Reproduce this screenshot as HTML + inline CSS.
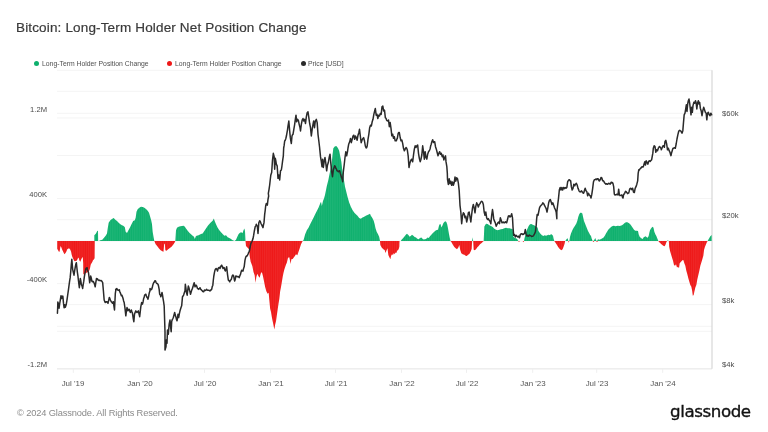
<!DOCTYPE html>
<html><head><meta charset="utf-8"><title>Bitcoin: Long-Term Holder Net Position Change</title>
<style>
html,body{margin:0;padding:0;background:#fff;}
body{width:768px;height:432px;position:relative;overflow:hidden;font-family:"Liberation Sans",sans-serif;}
.t{position:absolute;white-space:nowrap;line-height:1;will-change:transform;}
.title{left:16.3px;top:20.8px;font-size:13.5px;color:#3a3a3a;letter-spacing:0.155px;-webkit-text-stroke:0.2px #3a3a3a;}
.lg{font-size:6.83px;color:#505050;top:61.2px;}
.dot{position:absolute;width:5px;height:5px;border-radius:50%;top:61.4px;}
.yl{font-size:7.6px;color:#4a4a4a;text-align:right;width:40px;left:7.3px;}
.yr{font-size:7.7px;color:#4a4a4a;left:721.6px;}
.xl{font-size:7.95px;color:#555;top:379.8px;width:40px;text-align:center;margin-left:-20px;}
.copy{left:16.6px;top:408.7px;font-size:9.3px;color:#8a8a8a;letter-spacing:-0.14px;}
.logo{left:669.6px;top:403.4px;font-size:16.7px;color:#111;font-family:'DejaVu Sans',sans-serif;-webkit-text-stroke:0.35px #111;letter-spacing:-0.42px;}
</style></head><body>
<svg width="768" height="432" viewBox="0 0 768 432" style="position:absolute;left:0;top:0"><line x1="57.0" x2="712.0" y1="70.30" y2="70.30" stroke="#f4f4f4" stroke-width="1"/><line x1="57.0" x2="712.0" y1="91.32" y2="91.32" stroke="#f4f4f4" stroke-width="1"/><line x1="57.0" x2="712.0" y1="113.25" y2="113.25" stroke="#f4f4f4" stroke-width="1"/><line x1="57.0" x2="712.0" y1="117.97" y2="117.97" stroke="#f4f4f4" stroke-width="1"/><line x1="57.0" x2="712.0" y1="155.53" y2="155.53" stroke="#f4f4f4" stroke-width="1"/><line x1="57.0" x2="712.0" y1="198.45" y2="198.45" stroke="#f4f4f4" stroke-width="1"/><line x1="57.0" x2="712.0" y1="219.74" y2="219.74" stroke="#f4f4f4" stroke-width="1"/><line x1="57.0" x2="712.0" y1="241.05" y2="241.05" stroke="#f4f4f4" stroke-width="1"/><line x1="57.0" x2="712.0" y1="283.65" y2="283.65" stroke="#f4f4f4" stroke-width="1"/><line x1="57.0" x2="712.0" y1="304.62" y2="304.62" stroke="#f4f4f4" stroke-width="1"/><line x1="57.0" x2="712.0" y1="326.25" y2="326.25" stroke="#f4f4f4" stroke-width="1"/><line x1="57.0" x2="712.0" y1="331.27" y2="331.27" stroke="#f4f4f4" stroke-width="1"/><line x1="57.0" x2="712.0" y1="368.85" y2="368.85" stroke="#f4f4f4" stroke-width="1"/><line x1="57.0" x2="712.0" y1="368.85" y2="368.85" stroke="#e9e9e9" stroke-width="1"/><line x1="712.0" x2="712.0" y1="70.3" y2="368.85" stroke="#d4d4d4" stroke-width="1.1"/><line x1="73.3" x2="73.3" y1="368.85" y2="372.85" stroke="#efefef" stroke-width="1"/><line x1="139.5" x2="139.5" y1="368.85" y2="372.85" stroke="#efefef" stroke-width="1"/><line x1="204.5" x2="204.5" y1="368.85" y2="372.85" stroke="#efefef" stroke-width="1"/><line x1="270.5" x2="270.5" y1="368.85" y2="372.85" stroke="#efefef" stroke-width="1"/><line x1="335.5" x2="335.5" y1="368.85" y2="372.85" stroke="#efefef" stroke-width="1"/><line x1="401.5" x2="401.5" y1="368.85" y2="372.85" stroke="#efefef" stroke-width="1"/><line x1="466.5" x2="466.5" y1="368.85" y2="372.85" stroke="#efefef" stroke-width="1"/><line x1="532.7" x2="532.7" y1="368.85" y2="372.85" stroke="#efefef" stroke-width="1"/><line x1="596.7" x2="596.7" y1="368.85" y2="372.85" stroke="#efefef" stroke-width="1"/><line x1="662.7" x2="662.7" y1="368.85" y2="372.85" stroke="#efefef" stroke-width="1"/><defs><pattern id="st" width="2.2" height="8" patternUnits="userSpaceOnUse"><rect x="0.3" y="0" width="0.7" height="8" fill="#ffffff" fill-opacity="0.10"/></pattern></defs><path d="M57.20,241.1L57.20,241.10L57.20,241.10L58.20,241.10L59.20,241.10L59.80,241.10L60.50,241.10L61.30,241.10L62.20,241.10L63.20,241.10L64.40,241.10L65.50,241.10L66.50,241.10L67.30,241.10L68.30,241.10L69.40,241.10L70.30,241.10L71.10,241.10L71.70,241.10L72.30,241.10L73.20,241.10L74.00,241.10L74.80,241.10L75.80,241.10L76.90,241.10L77.80,241.10L78.60,241.10L79.40,241.10L80.30,241.10L81.10,241.10L81.90,241.10L82.75,241.10L83.20,241.10L83.30,241.10L83.70,241.10L85.00,241.10L87.00,241.10L88.60,241.10L89.40,241.10L90.00,241.10L90.70,241.10L91.50,241.10L92.30,241.10L93.00,241.10L93.80,241.10L94.60,241.10L94.75,241.10L94.33,241.10L94.33,235.17L96.00,233.50L97.33,230.67L98.00,231.00L98.17,241.10L99.00,241.10L100.33,240.33L102.33,239.67L104.00,237.67L105.67,235.67L107.00,233.50L107.83,227.67L108.67,222.67L110.33,220.17L112.00,219.00L113.67,218.00L115.33,219.67L117.00,221.00L118.67,222.67L120.33,224.33L122.00,225.17L123.67,226.00L124.83,227.33L125.67,231.83L127.00,233.00L128.17,230.67L129.83,227.67L131.50,224.33L133.17,221.00L134.83,220.17L135.67,217.67L136.50,211.83L137.67,209.33L139.33,207.67L141.00,206.83L142.67,207.00L144.33,207.67L146.00,209.00L147.67,210.67L149.00,212.67L150.17,216.83L151.17,220.17L152.00,224.33L152.67,231.83L153.67,237.67L154.33,241.10L155.67,241.10L157.33,241.10L159.00,241.10L160.67,241.10L162.33,241.10L163.50,241.10L164.17,241.10L164.83,241.10L165.33,241.10L166.50,241.10L168.17,241.10L169.83,241.10L171.50,241.10L173.17,241.10L174.83,241.10L175.33,241.10L176.00,230.17L177.00,227.67L178.67,226.83L180.33,226.33L182.00,226.00L183.67,225.67L184.83,226.83L186.00,228.50L187.67,230.67L189.33,232.67L191.00,234.33L192.67,235.67L194.00,236.83L194.83,239.00L195.67,236.83L196.00,236.00L198.50,235.17L201.00,234.00L202.67,233.50L204.33,231.00L206.00,228.50L207.67,226.00L209.33,224.00L211.00,222.33L212.67,220.67L213.83,218.50L214.67,221.00L216.00,224.33L217.67,227.67L219.33,230.17L221.00,232.33L222.67,234.00L224.33,235.67L226.00,235.17L227.67,237.33L229.33,238.00L231.00,239.00L232.67,240.17L234.67,241.10L236.00,239.67L237.33,236.83L238.50,234.33L239.67,233.00L241.00,232.33L242.67,233.00L243.50,230.17L244.33,228.50L245.00,231.00L245.50,241.10L246.00,241.10L247.67,241.10L249.00,241.10L249.67,241.10L250.67,241.10L252.33,241.10L253.50,241.10L254.67,241.10L255.50,241.10L256.33,241.10L257.33,241.10L258.50,241.10L259.67,241.10L260.67,241.10L261.83,241.10L263.00,241.10L264.00,241.10L265.17,241.10L266.33,241.10L267.67,241.10L268.67,241.10L269.33,241.10L270.17,241.10L271.00,241.10L271.83,241.10L272.67,241.10L273.50,241.10L274.33,241.10L275.17,241.10L276.00,241.10L276.83,241.10L277.67,241.10L278.50,241.10L279.33,241.10L280.17,241.10L281.00,241.10L281.83,241.10L282.67,241.10L283.50,241.10L284.33,241.10L285.17,241.10L286.00,241.10L286.83,241.10L288.00,241.10L289.33,241.10L290.67,241.10L291.33,241.10L292.67,241.10L294.33,241.10L296.00,241.10L297.33,241.10L298.50,241.10L299.67,241.10L301.00,241.10L302.67,241.10L303.50,240.17L305.17,234.33L306.83,230.17L308.50,227.67L310.17,224.33L311.83,221.00L313.50,217.67L315.17,214.33L316.83,211.00L318.50,207.67L320.17,203.50L321.00,201.83L321.83,206.00L323.00,201.00L324.00,198.50L325.00,195.00L326.67,186.67L328.33,180.00L330.00,171.67L331.67,163.33L332.50,155.00L333.33,148.33L335.00,146.33L336.67,146.33L338.00,148.33L339.17,150.83L340.33,156.67L341.33,161.67L342.50,171.67L343.67,178.33L345.00,186.67L345.83,190.00L347.50,196.67L349.17,202.50L350.83,206.67L352.50,210.00L354.17,212.50L355.83,214.17L357.50,215.83L359.17,218.00L360.83,218.67L362.50,217.50L364.17,216.67L365.83,215.83L367.50,215.00L369.17,214.17L370.00,213.83L370.83,215.83L372.50,218.33L373.67,220.83L374.67,224.17L375.50,228.33L376.67,231.67L378.00,234.17L379.17,236.67L380.00,241.10L380.33,241.10L381.67,241.10L383.33,241.10L384.67,241.10L385.50,241.10L386.67,241.10L387.50,241.10L388.33,241.10L389.50,241.10L390.33,241.10L391.17,241.10L392.00,241.10L393.00,241.10L393.83,241.10L394.67,241.10L395.50,241.10L396.33,241.10L397.17,241.10L398.00,241.10L398.67,241.10L399.33,241.10L399.50,241.10L400.83,241.10L401.33,240.00L403.00,238.33L404.67,236.33L405.83,234.67L407.00,233.83L408.33,235.00L409.67,236.67L411.00,235.83L412.00,234.67L413.33,235.83L414.67,237.00L416.00,237.50L417.33,238.67L418.67,239.17L420.00,238.00L421.33,237.50L422.50,238.67L423.67,239.50L425.00,239.17L426.33,238.67L427.50,237.50L428.67,238.00L430.00,236.33L431.33,234.67L432.67,233.33L434.00,232.00L435.33,230.83L436.67,230.00L438.00,229.67L439.00,225.83L439.67,224.17L440.67,224.17L441.33,227.50L442.33,225.83L443.33,223.33L444.33,222.00L445.33,221.33L446.33,222.00L447.17,224.17L448.00,228.33L448.83,233.33L449.67,237.50L450.50,241.10L451.67,241.10L453.00,241.10L454.33,241.10L455.67,241.10L457.00,241.10L458.33,241.10L459.33,241.10L460.17,241.10L461.33,241.10L462.67,241.10L464.33,241.10L465.67,241.10L466.83,241.10L468.00,241.10L469.33,241.10L470.67,241.10L471.67,241.10L472.17,241.10L472.50,237.33L473.17,241.10L473.67,241.10L474.67,241.10L476.00,241.10L477.33,241.10L478.67,241.10L480.00,241.10L481.33,241.10L482.67,241.10L483.67,241.10L484.00,234.00L484.33,226.50L486.00,223.67L487.67,224.00L489.33,225.33L491.00,226.00L492.67,227.00L494.33,228.67L496.00,229.83L497.67,230.33L499.33,229.83L501.00,229.33L502.67,229.00L504.33,228.17L506.00,227.83L507.67,228.17L509.33,228.17L511.00,228.67L512.67,229.00L513.33,236.50L514.33,237.67L516.00,238.33L517.33,239.33L518.33,241.10L519.00,241.10L519.67,241.10L522.67,241.10L523.33,241.10L524.00,241.10L524.33,239.00L525.17,235.67L526.00,232.33L527.33,229.00L528.67,226.00L530.00,224.33L531.33,224.00L532.67,224.83L534.00,225.33L535.33,226.00L536.67,227.00L537.67,227.67L538.33,230.67L539.33,232.33L540.67,234.00L542.00,235.33L543.33,236.00L544.67,235.33L546.00,235.67L547.33,235.33L548.67,234.83L550.00,235.33L551.00,234.00L552.00,234.83L553.00,235.67L553.67,239.00L554.33,241.10L555.50,241.10L556.83,241.10L558.17,241.10L559.50,241.10L560.67,241.10L561.67,241.10L562.67,241.10L563.67,241.10L564.50,241.10L565.17,241.10L565.33,241.10L566.67,239.00L567.67,238.17L568.33,241.10L568.67,241.10L569.33,241.10L570.00,236.83L571.00,233.50L572.33,230.17L573.67,227.67L575.00,225.67L576.33,223.50L577.33,220.67L578.33,216.83L579.33,214.00L580.33,212.67L581.33,212.67L582.33,213.50L583.00,216.83L584.00,221.00L585.00,223.50L586.00,226.00L587.00,228.50L588.00,231.00L589.00,232.67L590.00,234.67L591.00,236.00L591.67,238.50L592.67,241.10L593.33,241.10L594.33,239.67L595.33,238.00L596.00,240.17L597.00,241.10L598.00,239.33L599.33,239.67L600.67,239.33L602.00,238.50L603.33,237.67L604.67,236.00L606.00,233.50L607.33,231.33L608.67,229.33L610.00,228.00L611.33,226.83L612.67,226.00L614.00,225.67L615.33,226.33L616.67,226.00L618.00,225.67L619.33,226.00L620.67,225.67L622.00,225.17L623.33,224.33L624.67,223.00L626.00,222.33L627.33,222.33L628.67,223.00L630.00,224.00L631.33,225.67L632.67,227.67L634.00,229.67L635.33,230.67L636.67,230.67L638.00,231.00L638.67,234.33L639.67,236.83L640.67,237.67L641.67,238.50L642.67,239.00L643.67,237.33L644.67,236.83L645.67,236.33L646.67,237.33L647.67,237.67L648.67,236.00L649.33,232.67L650.00,230.17L651.00,228.50L652.00,227.33L653.00,226.83L653.67,228.50L654.33,231.83L655.33,234.33L656.33,236.00L657.33,238.50L658.33,241.10L659.33,241.10L660.67,241.10L662.00,241.10L663.33,241.10L664.67,241.10L665.67,241.10L666.33,241.10L667.00,241.10L668.00,240.17L668.50,241.10L668.83,241.10L669.17,241.10L670.00,241.10L671.00,241.10L672.00,241.10L673.00,241.10L674.00,241.10L675.00,241.10L676.00,241.10L677.00,241.10L678.00,241.10L679.00,241.10L679.67,241.10L681.00,241.10L682.33,241.10L683.33,241.10L684.33,241.10L685.33,241.10L686.33,241.10L687.33,241.10L688.33,241.10L689.33,241.10L690.33,241.10L691.33,241.10L692.17,241.10L692.83,241.10L693.67,241.10L694.33,241.10L695.33,241.10L696.33,241.10L697.33,241.10L698.33,241.10L699.33,241.10L700.33,241.10L701.33,241.10L702.33,241.10L703.33,241.10L704.00,241.10L705.00,241.10L706.00,241.10L707.00,241.10L707.67,241.10L708.00,240.33L709.17,238.33L710.33,236.33L711.67,235.00L711.67,241.10L711.67,241.1Z" fill="#0eb06d" stroke="none"/><path d="M57.20,241.1L57.20,241.10L57.20,248.80L58.20,250.50L59.20,252.30L59.80,250.50L60.50,245.90L61.30,247.20L62.20,249.70L63.20,251.80L64.40,254.30L65.50,253.00L66.50,251.30L67.30,249.30L68.30,248.40L69.40,248.40L70.30,249.70L71.10,251.80L71.70,254.70L72.30,256.80L73.20,258.80L74.00,260.50L74.80,261.30L75.80,260.90L76.90,260.50L77.80,258.40L78.60,257.60L79.40,260.50L80.30,261.80L81.10,259.70L81.90,258.00L82.75,257.00L83.20,263.00L83.30,274.00L83.70,274.50L85.00,273.60L87.00,272.50L88.60,271.50L89.40,270.25L90.00,268.20L90.70,264.80L91.50,263.20L92.30,261.90L93.00,260.25L93.80,259.40L94.60,258.20L94.75,241.10L94.33,241.10L94.33,241.10L96.00,241.10L97.33,241.10L98.00,241.10L98.17,241.10L99.00,241.10L100.33,241.10L102.33,241.10L104.00,241.10L105.67,241.10L107.00,241.10L107.83,241.10L108.67,241.10L110.33,241.10L112.00,241.10L113.67,241.10L115.33,241.10L117.00,241.10L118.67,241.10L120.33,241.10L122.00,241.10L123.67,241.10L124.83,241.10L125.67,241.10L127.00,241.10L128.17,241.10L129.83,241.10L131.50,241.10L133.17,241.10L134.83,241.10L135.67,241.10L136.50,241.10L137.67,241.10L139.33,241.10L141.00,241.10L142.67,241.10L144.33,241.10L146.00,241.10L147.67,241.10L149.00,241.10L150.17,241.10L151.17,241.10L152.00,241.10L152.67,241.10L153.67,241.10L154.33,241.10L155.67,244.33L157.33,246.33L159.00,248.50L160.67,250.17L162.33,251.33L163.50,251.83L164.17,244.33L164.83,243.50L165.33,250.17L166.50,250.67L168.17,249.33L169.83,248.00L171.50,246.83L173.17,244.67L174.83,242.33L175.33,241.10L176.00,241.10L177.00,241.10L178.67,241.10L180.33,241.10L182.00,241.10L183.67,241.10L184.83,241.10L186.00,241.10L187.67,241.10L189.33,241.10L191.00,241.10L192.67,241.10L194.00,241.10L194.83,241.10L195.67,241.10L196.00,241.10L198.50,241.10L201.00,241.10L202.67,241.10L204.33,241.10L206.00,241.10L207.67,241.10L209.33,241.10L211.00,241.10L212.67,241.10L213.83,241.10L214.67,241.10L216.00,241.10L217.67,241.10L219.33,241.10L221.00,241.10L222.67,241.10L224.33,241.10L226.00,241.10L227.67,241.10L229.33,241.10L231.00,241.10L232.67,241.10L234.67,241.10L236.00,241.10L237.33,241.10L238.50,241.10L239.67,241.10L241.00,241.10L242.67,241.10L243.50,241.10L244.33,241.10L245.00,241.10L245.50,241.10L246.00,246.00L247.67,247.67L249.00,249.33L249.67,256.00L250.67,261.83L252.33,266.00L253.50,272.00L254.67,275.33L255.50,282.83L256.33,277.00L257.33,273.67L258.50,276.17L259.67,277.83L260.67,273.67L261.83,272.00L263.00,276.17L264.00,281.17L265.17,287.00L266.33,291.17L267.67,293.67L268.67,292.83L269.33,300.33L270.17,308.67L271.00,312.00L271.83,317.00L272.67,321.17L273.50,325.33L274.33,329.50L275.17,324.50L276.00,321.17L276.83,315.33L277.67,309.50L278.50,303.67L279.33,298.67L280.17,291.17L281.00,287.00L281.83,282.00L282.67,277.00L283.50,272.83L284.33,269.50L285.17,267.00L286.00,264.50L286.83,262.67L288.00,257.67L289.33,257.33L290.67,264.00L291.33,259.33L292.67,259.00L294.33,256.83L296.00,254.33L297.33,255.17L298.50,251.83L299.67,248.50L301.00,244.33L302.67,241.10L303.50,241.10L305.17,241.10L306.83,241.10L308.50,241.10L310.17,241.10L311.83,241.10L313.50,241.10L315.17,241.10L316.83,241.10L318.50,241.10L320.17,241.10L321.00,241.10L321.83,241.10L323.00,241.10L324.00,241.10L325.00,241.10L326.67,241.10L328.33,241.10L330.00,241.10L331.67,241.10L332.50,241.10L333.33,241.10L335.00,241.10L336.67,241.10L338.00,241.10L339.17,241.10L340.33,241.10L341.33,241.10L342.50,241.10L343.67,241.10L345.00,241.10L345.83,241.10L347.50,241.10L349.17,241.10L350.83,241.10L352.50,241.10L354.17,241.10L355.83,241.10L357.50,241.10L359.17,241.10L360.83,241.10L362.50,241.10L364.17,241.10L365.83,241.10L367.50,241.10L369.17,241.10L370.00,241.10L370.83,241.10L372.50,241.10L373.67,241.10L374.67,241.10L375.50,241.10L376.67,241.10L378.00,241.10L379.17,241.10L380.00,241.10L380.33,245.00L381.67,247.50L383.33,249.17L384.67,250.00L385.50,253.00L386.67,250.00L387.50,248.33L388.33,255.00L389.50,257.50L390.33,259.17L391.17,255.83L392.00,254.17L393.00,255.00L393.83,253.00L394.67,254.17L395.50,252.50L396.33,253.00L397.17,250.83L398.00,250.00L398.67,249.17L399.33,246.67L399.50,241.10L400.83,241.10L401.33,241.10L403.00,241.10L404.67,241.10L405.83,241.10L407.00,241.10L408.33,241.10L409.67,241.10L411.00,241.10L412.00,241.10L413.33,241.10L414.67,241.10L416.00,241.10L417.33,241.10L418.67,241.10L420.00,241.10L421.33,241.10L422.50,241.10L423.67,241.10L425.00,241.10L426.33,241.10L427.50,241.10L428.67,241.10L430.00,241.10L431.33,241.10L432.67,241.10L434.00,241.10L435.33,241.10L436.67,241.10L438.00,241.10L439.00,241.10L439.67,241.10L440.67,241.10L441.33,241.10L442.33,241.10L443.33,241.10L444.33,241.10L445.33,241.10L446.33,241.10L447.17,241.10L448.00,241.10L448.83,241.10L449.67,241.10L450.50,241.10L451.67,242.50L453.00,245.00L454.33,247.00L455.67,248.33L457.00,249.17L458.33,247.50L459.33,245.00L460.17,249.83L461.33,253.17L462.67,254.33L464.33,254.83L465.67,255.67L466.83,256.00L468.00,254.83L469.33,254.00L470.67,251.50L471.67,249.00L472.17,241.10L472.50,241.10L473.17,241.10L473.67,249.83L474.67,250.33L476.00,249.33L477.33,247.33L478.67,246.00L480.00,244.33L481.33,243.17L482.67,242.00L483.67,241.10L484.00,241.10L484.33,241.10L486.00,241.10L487.67,241.10L489.33,241.10L491.00,241.10L492.67,241.10L494.33,241.10L496.00,241.10L497.67,241.10L499.33,241.10L501.00,241.10L502.67,241.10L504.33,241.10L506.00,241.10L507.67,241.10L509.33,241.10L511.00,241.10L512.67,241.10L513.33,241.10L514.33,241.10L516.00,241.10L517.33,241.10L518.33,241.10L519.00,242.33L519.67,241.10L522.67,241.10L523.33,242.33L524.00,241.10L524.33,241.10L525.17,241.10L526.00,241.10L527.33,241.10L528.67,241.10L530.00,241.10L531.33,241.10L532.67,241.10L534.00,241.10L535.33,241.10L536.67,241.10L537.67,241.10L538.33,241.10L539.33,241.10L540.67,241.10L542.00,241.10L543.33,241.10L544.67,241.10L546.00,241.10L547.33,241.10L548.67,241.10L550.00,241.10L551.00,241.10L552.00,241.10L553.00,241.10L553.67,241.10L554.33,241.10L555.50,242.67L556.83,244.83L558.17,247.00L559.50,248.67L560.67,249.83L561.67,250.33L562.67,249.00L563.67,246.50L564.50,244.00L565.17,241.10L565.33,241.10L566.67,241.10L567.67,241.10L568.33,241.10L568.67,242.67L569.33,241.10L570.00,241.10L571.00,241.10L572.33,241.10L573.67,241.10L575.00,241.10L576.33,241.10L577.33,241.10L578.33,241.10L579.33,241.10L580.33,241.10L581.33,241.10L582.33,241.10L583.00,241.10L584.00,241.10L585.00,241.10L586.00,241.10L587.00,241.10L588.00,241.10L589.00,241.10L590.00,241.10L591.00,241.10L591.67,241.10L592.67,241.10L593.33,242.00L594.33,241.10L595.33,241.10L596.00,241.10L597.00,242.00L598.00,241.10L599.33,241.10L600.67,241.10L602.00,241.10L603.33,241.10L604.67,241.10L606.00,241.10L607.33,241.10L608.67,241.10L610.00,241.10L611.33,241.10L612.67,241.10L614.00,241.10L615.33,241.10L616.67,241.10L618.00,241.10L619.33,241.10L620.67,241.10L622.00,241.10L623.33,241.10L624.67,241.10L626.00,241.10L627.33,241.10L628.67,241.10L630.00,241.10L631.33,241.10L632.67,241.10L634.00,241.10L635.33,241.10L636.67,241.10L638.00,241.10L638.67,241.10L639.67,241.10L640.67,241.10L641.67,241.10L642.67,241.10L643.67,241.10L644.67,241.10L645.67,241.10L646.67,241.10L647.67,241.10L648.67,241.10L649.33,241.10L650.00,241.10L651.00,241.10L652.00,241.10L653.00,241.10L653.67,241.10L654.33,241.10L655.33,241.10L656.33,241.10L657.33,241.10L658.33,241.10L659.33,242.17L660.67,243.50L662.00,244.67L663.33,245.67L664.67,246.33L665.67,244.33L666.33,242.17L667.00,241.10L668.00,241.10L668.50,241.10L668.83,241.10L669.17,246.67L670.00,250.83L671.00,254.17L672.00,257.50L673.00,260.83L674.00,265.00L675.00,265.83L676.00,264.17L677.00,267.50L678.00,266.67L679.00,268.33L679.67,263.33L681.00,261.67L682.33,260.33L683.33,260.00L684.33,263.33L685.33,265.83L686.33,270.83L687.33,274.17L688.33,278.33L689.33,281.67L690.33,285.00L691.33,286.67L692.17,290.83L692.83,295.83L693.67,295.00L694.33,291.67L695.33,287.50L696.33,285.00L697.33,279.17L698.33,275.00L699.33,270.83L700.33,265.83L701.33,262.50L702.33,259.17L703.33,255.83L704.00,250.00L705.00,246.67L706.00,244.17L707.00,242.00L707.67,241.10L708.00,241.10L709.17,241.10L710.33,241.10L711.67,241.10L711.67,241.10L711.67,241.1Z" fill="#ee1818" stroke="none"/><path d="M57.20,241.1L57.20,241.10L57.20,241.10L58.20,241.10L59.20,241.10L59.80,241.10L60.50,241.10L61.30,241.10L62.20,241.10L63.20,241.10L64.40,241.10L65.50,241.10L66.50,241.10L67.30,241.10L68.30,241.10L69.40,241.10L70.30,241.10L71.10,241.10L71.70,241.10L72.30,241.10L73.20,241.10L74.00,241.10L74.80,241.10L75.80,241.10L76.90,241.10L77.80,241.10L78.60,241.10L79.40,241.10L80.30,241.10L81.10,241.10L81.90,241.10L82.75,241.10L83.20,241.10L83.30,241.10L83.70,241.10L85.00,241.10L87.00,241.10L88.60,241.10L89.40,241.10L90.00,241.10L90.70,241.10L91.50,241.10L92.30,241.10L93.00,241.10L93.80,241.10L94.60,241.10L94.75,241.10L94.33,241.10L94.33,235.17L96.00,233.50L97.33,230.67L98.00,231.00L98.17,241.10L99.00,241.10L100.33,240.33L102.33,239.67L104.00,237.67L105.67,235.67L107.00,233.50L107.83,227.67L108.67,222.67L110.33,220.17L112.00,219.00L113.67,218.00L115.33,219.67L117.00,221.00L118.67,222.67L120.33,224.33L122.00,225.17L123.67,226.00L124.83,227.33L125.67,231.83L127.00,233.00L128.17,230.67L129.83,227.67L131.50,224.33L133.17,221.00L134.83,220.17L135.67,217.67L136.50,211.83L137.67,209.33L139.33,207.67L141.00,206.83L142.67,207.00L144.33,207.67L146.00,209.00L147.67,210.67L149.00,212.67L150.17,216.83L151.17,220.17L152.00,224.33L152.67,231.83L153.67,237.67L154.33,241.10L155.67,241.10L157.33,241.10L159.00,241.10L160.67,241.10L162.33,241.10L163.50,241.10L164.17,241.10L164.83,241.10L165.33,241.10L166.50,241.10L168.17,241.10L169.83,241.10L171.50,241.10L173.17,241.10L174.83,241.10L175.33,241.10L176.00,230.17L177.00,227.67L178.67,226.83L180.33,226.33L182.00,226.00L183.67,225.67L184.83,226.83L186.00,228.50L187.67,230.67L189.33,232.67L191.00,234.33L192.67,235.67L194.00,236.83L194.83,239.00L195.67,236.83L196.00,236.00L198.50,235.17L201.00,234.00L202.67,233.50L204.33,231.00L206.00,228.50L207.67,226.00L209.33,224.00L211.00,222.33L212.67,220.67L213.83,218.50L214.67,221.00L216.00,224.33L217.67,227.67L219.33,230.17L221.00,232.33L222.67,234.00L224.33,235.67L226.00,235.17L227.67,237.33L229.33,238.00L231.00,239.00L232.67,240.17L234.67,241.10L236.00,239.67L237.33,236.83L238.50,234.33L239.67,233.00L241.00,232.33L242.67,233.00L243.50,230.17L244.33,228.50L245.00,231.00L245.50,241.10L246.00,241.10L247.67,241.10L249.00,241.10L249.67,241.10L250.67,241.10L252.33,241.10L253.50,241.10L254.67,241.10L255.50,241.10L256.33,241.10L257.33,241.10L258.50,241.10L259.67,241.10L260.67,241.10L261.83,241.10L263.00,241.10L264.00,241.10L265.17,241.10L266.33,241.10L267.67,241.10L268.67,241.10L269.33,241.10L270.17,241.10L271.00,241.10L271.83,241.10L272.67,241.10L273.50,241.10L274.33,241.10L275.17,241.10L276.00,241.10L276.83,241.10L277.67,241.10L278.50,241.10L279.33,241.10L280.17,241.10L281.00,241.10L281.83,241.10L282.67,241.10L283.50,241.10L284.33,241.10L285.17,241.10L286.00,241.10L286.83,241.10L288.00,241.10L289.33,241.10L290.67,241.10L291.33,241.10L292.67,241.10L294.33,241.10L296.00,241.10L297.33,241.10L298.50,241.10L299.67,241.10L301.00,241.10L302.67,241.10L303.50,240.17L305.17,234.33L306.83,230.17L308.50,227.67L310.17,224.33L311.83,221.00L313.50,217.67L315.17,214.33L316.83,211.00L318.50,207.67L320.17,203.50L321.00,201.83L321.83,206.00L323.00,201.00L324.00,198.50L325.00,195.00L326.67,186.67L328.33,180.00L330.00,171.67L331.67,163.33L332.50,155.00L333.33,148.33L335.00,146.33L336.67,146.33L338.00,148.33L339.17,150.83L340.33,156.67L341.33,161.67L342.50,171.67L343.67,178.33L345.00,186.67L345.83,190.00L347.50,196.67L349.17,202.50L350.83,206.67L352.50,210.00L354.17,212.50L355.83,214.17L357.50,215.83L359.17,218.00L360.83,218.67L362.50,217.50L364.17,216.67L365.83,215.83L367.50,215.00L369.17,214.17L370.00,213.83L370.83,215.83L372.50,218.33L373.67,220.83L374.67,224.17L375.50,228.33L376.67,231.67L378.00,234.17L379.17,236.67L380.00,241.10L380.33,241.10L381.67,241.10L383.33,241.10L384.67,241.10L385.50,241.10L386.67,241.10L387.50,241.10L388.33,241.10L389.50,241.10L390.33,241.10L391.17,241.10L392.00,241.10L393.00,241.10L393.83,241.10L394.67,241.10L395.50,241.10L396.33,241.10L397.17,241.10L398.00,241.10L398.67,241.10L399.33,241.10L399.50,241.10L400.83,241.10L401.33,240.00L403.00,238.33L404.67,236.33L405.83,234.67L407.00,233.83L408.33,235.00L409.67,236.67L411.00,235.83L412.00,234.67L413.33,235.83L414.67,237.00L416.00,237.50L417.33,238.67L418.67,239.17L420.00,238.00L421.33,237.50L422.50,238.67L423.67,239.50L425.00,239.17L426.33,238.67L427.50,237.50L428.67,238.00L430.00,236.33L431.33,234.67L432.67,233.33L434.00,232.00L435.33,230.83L436.67,230.00L438.00,229.67L439.00,225.83L439.67,224.17L440.67,224.17L441.33,227.50L442.33,225.83L443.33,223.33L444.33,222.00L445.33,221.33L446.33,222.00L447.17,224.17L448.00,228.33L448.83,233.33L449.67,237.50L450.50,241.10L451.67,241.10L453.00,241.10L454.33,241.10L455.67,241.10L457.00,241.10L458.33,241.10L459.33,241.10L460.17,241.10L461.33,241.10L462.67,241.10L464.33,241.10L465.67,241.10L466.83,241.10L468.00,241.10L469.33,241.10L470.67,241.10L471.67,241.10L472.17,241.10L472.50,237.33L473.17,241.10L473.67,241.10L474.67,241.10L476.00,241.10L477.33,241.10L478.67,241.10L480.00,241.10L481.33,241.10L482.67,241.10L483.67,241.10L484.00,234.00L484.33,226.50L486.00,223.67L487.67,224.00L489.33,225.33L491.00,226.00L492.67,227.00L494.33,228.67L496.00,229.83L497.67,230.33L499.33,229.83L501.00,229.33L502.67,229.00L504.33,228.17L506.00,227.83L507.67,228.17L509.33,228.17L511.00,228.67L512.67,229.00L513.33,236.50L514.33,237.67L516.00,238.33L517.33,239.33L518.33,241.10L519.00,241.10L519.67,241.10L522.67,241.10L523.33,241.10L524.00,241.10L524.33,239.00L525.17,235.67L526.00,232.33L527.33,229.00L528.67,226.00L530.00,224.33L531.33,224.00L532.67,224.83L534.00,225.33L535.33,226.00L536.67,227.00L537.67,227.67L538.33,230.67L539.33,232.33L540.67,234.00L542.00,235.33L543.33,236.00L544.67,235.33L546.00,235.67L547.33,235.33L548.67,234.83L550.00,235.33L551.00,234.00L552.00,234.83L553.00,235.67L553.67,239.00L554.33,241.10L555.50,241.10L556.83,241.10L558.17,241.10L559.50,241.10L560.67,241.10L561.67,241.10L562.67,241.10L563.67,241.10L564.50,241.10L565.17,241.10L565.33,241.10L566.67,239.00L567.67,238.17L568.33,241.10L568.67,241.10L569.33,241.10L570.00,236.83L571.00,233.50L572.33,230.17L573.67,227.67L575.00,225.67L576.33,223.50L577.33,220.67L578.33,216.83L579.33,214.00L580.33,212.67L581.33,212.67L582.33,213.50L583.00,216.83L584.00,221.00L585.00,223.50L586.00,226.00L587.00,228.50L588.00,231.00L589.00,232.67L590.00,234.67L591.00,236.00L591.67,238.50L592.67,241.10L593.33,241.10L594.33,239.67L595.33,238.00L596.00,240.17L597.00,241.10L598.00,239.33L599.33,239.67L600.67,239.33L602.00,238.50L603.33,237.67L604.67,236.00L606.00,233.50L607.33,231.33L608.67,229.33L610.00,228.00L611.33,226.83L612.67,226.00L614.00,225.67L615.33,226.33L616.67,226.00L618.00,225.67L619.33,226.00L620.67,225.67L622.00,225.17L623.33,224.33L624.67,223.00L626.00,222.33L627.33,222.33L628.67,223.00L630.00,224.00L631.33,225.67L632.67,227.67L634.00,229.67L635.33,230.67L636.67,230.67L638.00,231.00L638.67,234.33L639.67,236.83L640.67,237.67L641.67,238.50L642.67,239.00L643.67,237.33L644.67,236.83L645.67,236.33L646.67,237.33L647.67,237.67L648.67,236.00L649.33,232.67L650.00,230.17L651.00,228.50L652.00,227.33L653.00,226.83L653.67,228.50L654.33,231.83L655.33,234.33L656.33,236.00L657.33,238.50L658.33,241.10L659.33,241.10L660.67,241.10L662.00,241.10L663.33,241.10L664.67,241.10L665.67,241.10L666.33,241.10L667.00,241.10L668.00,240.17L668.50,241.10L668.83,241.10L669.17,241.10L670.00,241.10L671.00,241.10L672.00,241.10L673.00,241.10L674.00,241.10L675.00,241.10L676.00,241.10L677.00,241.10L678.00,241.10L679.00,241.10L679.67,241.10L681.00,241.10L682.33,241.10L683.33,241.10L684.33,241.10L685.33,241.10L686.33,241.10L687.33,241.10L688.33,241.10L689.33,241.10L690.33,241.10L691.33,241.10L692.17,241.10L692.83,241.10L693.67,241.10L694.33,241.10L695.33,241.10L696.33,241.10L697.33,241.10L698.33,241.10L699.33,241.10L700.33,241.10L701.33,241.10L702.33,241.10L703.33,241.10L704.00,241.10L705.00,241.10L706.00,241.10L707.00,241.10L707.67,241.10L708.00,240.33L709.17,238.33L710.33,236.33L711.67,235.00L711.67,241.10L711.67,241.1Z" fill="url(#st)" stroke="none"/><path d="M57.20,241.1L57.20,241.10L57.20,248.80L58.20,250.50L59.20,252.30L59.80,250.50L60.50,245.90L61.30,247.20L62.20,249.70L63.20,251.80L64.40,254.30L65.50,253.00L66.50,251.30L67.30,249.30L68.30,248.40L69.40,248.40L70.30,249.70L71.10,251.80L71.70,254.70L72.30,256.80L73.20,258.80L74.00,260.50L74.80,261.30L75.80,260.90L76.90,260.50L77.80,258.40L78.60,257.60L79.40,260.50L80.30,261.80L81.10,259.70L81.90,258.00L82.75,257.00L83.20,263.00L83.30,274.00L83.70,274.50L85.00,273.60L87.00,272.50L88.60,271.50L89.40,270.25L90.00,268.20L90.70,264.80L91.50,263.20L92.30,261.90L93.00,260.25L93.80,259.40L94.60,258.20L94.75,241.10L94.33,241.10L94.33,241.10L96.00,241.10L97.33,241.10L98.00,241.10L98.17,241.10L99.00,241.10L100.33,241.10L102.33,241.10L104.00,241.10L105.67,241.10L107.00,241.10L107.83,241.10L108.67,241.10L110.33,241.10L112.00,241.10L113.67,241.10L115.33,241.10L117.00,241.10L118.67,241.10L120.33,241.10L122.00,241.10L123.67,241.10L124.83,241.10L125.67,241.10L127.00,241.10L128.17,241.10L129.83,241.10L131.50,241.10L133.17,241.10L134.83,241.10L135.67,241.10L136.50,241.10L137.67,241.10L139.33,241.10L141.00,241.10L142.67,241.10L144.33,241.10L146.00,241.10L147.67,241.10L149.00,241.10L150.17,241.10L151.17,241.10L152.00,241.10L152.67,241.10L153.67,241.10L154.33,241.10L155.67,244.33L157.33,246.33L159.00,248.50L160.67,250.17L162.33,251.33L163.50,251.83L164.17,244.33L164.83,243.50L165.33,250.17L166.50,250.67L168.17,249.33L169.83,248.00L171.50,246.83L173.17,244.67L174.83,242.33L175.33,241.10L176.00,241.10L177.00,241.10L178.67,241.10L180.33,241.10L182.00,241.10L183.67,241.10L184.83,241.10L186.00,241.10L187.67,241.10L189.33,241.10L191.00,241.10L192.67,241.10L194.00,241.10L194.83,241.10L195.67,241.10L196.00,241.10L198.50,241.10L201.00,241.10L202.67,241.10L204.33,241.10L206.00,241.10L207.67,241.10L209.33,241.10L211.00,241.10L212.67,241.10L213.83,241.10L214.67,241.10L216.00,241.10L217.67,241.10L219.33,241.10L221.00,241.10L222.67,241.10L224.33,241.10L226.00,241.10L227.67,241.10L229.33,241.10L231.00,241.10L232.67,241.10L234.67,241.10L236.00,241.10L237.33,241.10L238.50,241.10L239.67,241.10L241.00,241.10L242.67,241.10L243.50,241.10L244.33,241.10L245.00,241.10L245.50,241.10L246.00,246.00L247.67,247.67L249.00,249.33L249.67,256.00L250.67,261.83L252.33,266.00L253.50,272.00L254.67,275.33L255.50,282.83L256.33,277.00L257.33,273.67L258.50,276.17L259.67,277.83L260.67,273.67L261.83,272.00L263.00,276.17L264.00,281.17L265.17,287.00L266.33,291.17L267.67,293.67L268.67,292.83L269.33,300.33L270.17,308.67L271.00,312.00L271.83,317.00L272.67,321.17L273.50,325.33L274.33,329.50L275.17,324.50L276.00,321.17L276.83,315.33L277.67,309.50L278.50,303.67L279.33,298.67L280.17,291.17L281.00,287.00L281.83,282.00L282.67,277.00L283.50,272.83L284.33,269.50L285.17,267.00L286.00,264.50L286.83,262.67L288.00,257.67L289.33,257.33L290.67,264.00L291.33,259.33L292.67,259.00L294.33,256.83L296.00,254.33L297.33,255.17L298.50,251.83L299.67,248.50L301.00,244.33L302.67,241.10L303.50,241.10L305.17,241.10L306.83,241.10L308.50,241.10L310.17,241.10L311.83,241.10L313.50,241.10L315.17,241.10L316.83,241.10L318.50,241.10L320.17,241.10L321.00,241.10L321.83,241.10L323.00,241.10L324.00,241.10L325.00,241.10L326.67,241.10L328.33,241.10L330.00,241.10L331.67,241.10L332.50,241.10L333.33,241.10L335.00,241.10L336.67,241.10L338.00,241.10L339.17,241.10L340.33,241.10L341.33,241.10L342.50,241.10L343.67,241.10L345.00,241.10L345.83,241.10L347.50,241.10L349.17,241.10L350.83,241.10L352.50,241.10L354.17,241.10L355.83,241.10L357.50,241.10L359.17,241.10L360.83,241.10L362.50,241.10L364.17,241.10L365.83,241.10L367.50,241.10L369.17,241.10L370.00,241.10L370.83,241.10L372.50,241.10L373.67,241.10L374.67,241.10L375.50,241.10L376.67,241.10L378.00,241.10L379.17,241.10L380.00,241.10L380.33,245.00L381.67,247.50L383.33,249.17L384.67,250.00L385.50,253.00L386.67,250.00L387.50,248.33L388.33,255.00L389.50,257.50L390.33,259.17L391.17,255.83L392.00,254.17L393.00,255.00L393.83,253.00L394.67,254.17L395.50,252.50L396.33,253.00L397.17,250.83L398.00,250.00L398.67,249.17L399.33,246.67L399.50,241.10L400.83,241.10L401.33,241.10L403.00,241.10L404.67,241.10L405.83,241.10L407.00,241.10L408.33,241.10L409.67,241.10L411.00,241.10L412.00,241.10L413.33,241.10L414.67,241.10L416.00,241.10L417.33,241.10L418.67,241.10L420.00,241.10L421.33,241.10L422.50,241.10L423.67,241.10L425.00,241.10L426.33,241.10L427.50,241.10L428.67,241.10L430.00,241.10L431.33,241.10L432.67,241.10L434.00,241.10L435.33,241.10L436.67,241.10L438.00,241.10L439.00,241.10L439.67,241.10L440.67,241.10L441.33,241.10L442.33,241.10L443.33,241.10L444.33,241.10L445.33,241.10L446.33,241.10L447.17,241.10L448.00,241.10L448.83,241.10L449.67,241.10L450.50,241.10L451.67,242.50L453.00,245.00L454.33,247.00L455.67,248.33L457.00,249.17L458.33,247.50L459.33,245.00L460.17,249.83L461.33,253.17L462.67,254.33L464.33,254.83L465.67,255.67L466.83,256.00L468.00,254.83L469.33,254.00L470.67,251.50L471.67,249.00L472.17,241.10L472.50,241.10L473.17,241.10L473.67,249.83L474.67,250.33L476.00,249.33L477.33,247.33L478.67,246.00L480.00,244.33L481.33,243.17L482.67,242.00L483.67,241.10L484.00,241.10L484.33,241.10L486.00,241.10L487.67,241.10L489.33,241.10L491.00,241.10L492.67,241.10L494.33,241.10L496.00,241.10L497.67,241.10L499.33,241.10L501.00,241.10L502.67,241.10L504.33,241.10L506.00,241.10L507.67,241.10L509.33,241.10L511.00,241.10L512.67,241.10L513.33,241.10L514.33,241.10L516.00,241.10L517.33,241.10L518.33,241.10L519.00,242.33L519.67,241.10L522.67,241.10L523.33,242.33L524.00,241.10L524.33,241.10L525.17,241.10L526.00,241.10L527.33,241.10L528.67,241.10L530.00,241.10L531.33,241.10L532.67,241.10L534.00,241.10L535.33,241.10L536.67,241.10L537.67,241.10L538.33,241.10L539.33,241.10L540.67,241.10L542.00,241.10L543.33,241.10L544.67,241.10L546.00,241.10L547.33,241.10L548.67,241.10L550.00,241.10L551.00,241.10L552.00,241.10L553.00,241.10L553.67,241.10L554.33,241.10L555.50,242.67L556.83,244.83L558.17,247.00L559.50,248.67L560.67,249.83L561.67,250.33L562.67,249.00L563.67,246.50L564.50,244.00L565.17,241.10L565.33,241.10L566.67,241.10L567.67,241.10L568.33,241.10L568.67,242.67L569.33,241.10L570.00,241.10L571.00,241.10L572.33,241.10L573.67,241.10L575.00,241.10L576.33,241.10L577.33,241.10L578.33,241.10L579.33,241.10L580.33,241.10L581.33,241.10L582.33,241.10L583.00,241.10L584.00,241.10L585.00,241.10L586.00,241.10L587.00,241.10L588.00,241.10L589.00,241.10L590.00,241.10L591.00,241.10L591.67,241.10L592.67,241.10L593.33,242.00L594.33,241.10L595.33,241.10L596.00,241.10L597.00,242.00L598.00,241.10L599.33,241.10L600.67,241.10L602.00,241.10L603.33,241.10L604.67,241.10L606.00,241.10L607.33,241.10L608.67,241.10L610.00,241.10L611.33,241.10L612.67,241.10L614.00,241.10L615.33,241.10L616.67,241.10L618.00,241.10L619.33,241.10L620.67,241.10L622.00,241.10L623.33,241.10L624.67,241.10L626.00,241.10L627.33,241.10L628.67,241.10L630.00,241.10L631.33,241.10L632.67,241.10L634.00,241.10L635.33,241.10L636.67,241.10L638.00,241.10L638.67,241.10L639.67,241.10L640.67,241.10L641.67,241.10L642.67,241.10L643.67,241.10L644.67,241.10L645.67,241.10L646.67,241.10L647.67,241.10L648.67,241.10L649.33,241.10L650.00,241.10L651.00,241.10L652.00,241.10L653.00,241.10L653.67,241.10L654.33,241.10L655.33,241.10L656.33,241.10L657.33,241.10L658.33,241.10L659.33,242.17L660.67,243.50L662.00,244.67L663.33,245.67L664.67,246.33L665.67,244.33L666.33,242.17L667.00,241.10L668.00,241.10L668.50,241.10L668.83,241.10L669.17,246.67L670.00,250.83L671.00,254.17L672.00,257.50L673.00,260.83L674.00,265.00L675.00,265.83L676.00,264.17L677.00,267.50L678.00,266.67L679.00,268.33L679.67,263.33L681.00,261.67L682.33,260.33L683.33,260.00L684.33,263.33L685.33,265.83L686.33,270.83L687.33,274.17L688.33,278.33L689.33,281.67L690.33,285.00L691.33,286.67L692.17,290.83L692.83,295.83L693.67,295.00L694.33,291.67L695.33,287.50L696.33,285.00L697.33,279.17L698.33,275.00L699.33,270.83L700.33,265.83L701.33,262.50L702.33,259.17L703.33,255.83L704.00,250.00L705.00,246.67L706.00,244.17L707.00,242.00L707.67,241.10L708.00,241.10L709.17,241.10L710.33,241.10L711.67,241.10L711.67,241.10L711.67,241.1Z" fill="url(#st)" stroke="none"/><path d="M57.42,313.17L57.67,308.17L57.83,301.92L58.50,304.00L59.08,308.17L59.67,304.00L60.33,299.83L61.00,295.67L61.58,298.58L62.17,296.50L62.83,296.08L63.50,303.17L64.08,307.75L64.67,304.83L65.33,307.33L66.17,304.83L67.00,299.83L67.83,294.00L68.50,289.33L69.06,285.20L69.61,281.07L70.17,277.67L70.72,271.77L71.28,264.84L71.83,259.33L72.67,269.33L73.34,272.30L74.00,275.17L74.59,271.23L75.17,267.67L75.75,264.55L76.33,262.67L76.83,267.26L77.33,271.83L77.91,275.77L78.50,281.00L79.33,287.67L79.83,282.99L80.33,278.50L80.83,280.81L81.33,284.33L82.00,285.84L82.67,288.50L83.22,284.50L83.78,281.18L84.33,276.83L84.89,273.53L85.44,270.89L86.00,268.50L86.50,268.26L87.00,267.67L87.50,269.96L88.00,271.11L88.50,272.67L89.09,277.53L89.67,282.67L90.17,280.00L90.67,276.00L91.25,277.87L91.83,281.00L92.39,281.78L92.94,281.26L93.50,281.83L94.06,283.00L94.61,284.63L95.17,286.83L95.84,282.40L96.50,278.50L97.00,279.36L97.50,278.89L98.00,279.87L98.50,280.17L99.04,280.49L99.59,280.24L100.13,280.61L100.67,280.67L101.17,280.56L101.67,281.05L102.17,281.76L102.67,282.67L103.33,290.00L104.17,300.00L104.75,301.50L105.33,302.50L105.89,302.12L106.44,301.69L107.00,301.67L107.50,302.62L108.00,303.33L108.66,300.35L109.33,297.50L109.83,298.33L110.33,300.13L110.83,300.83L111.39,301.94L111.94,302.14L112.50,303.33L113.33,301.67L113.91,305.94L114.50,310.00L115.33,293.33L115.83,290.00L115.67,289.33L116.25,288.95L116.83,288.50L117.41,289.86L118.00,290.17L118.66,290.24L119.33,289.67L119.67,291.67L120.25,292.62L120.83,294.17L121.39,295.68L121.94,295.30L122.50,296.67L123.06,298.50L123.61,300.92L124.17,302.50L125.00,308.33L125.83,315.83L126.41,311.18L127.00,307.50L127.50,309.15L128.00,310.83L128.58,309.35L129.17,309.17L129.75,311.07L130.33,312.50L130.83,311.62L131.33,310.00L131.92,311.77L132.50,313.33L133.17,318.03L133.83,321.67L134.50,314.17L135.17,312.24L135.83,310.83L136.42,311.94L137.00,312.50L137.67,311.80L138.33,310.83L139.00,313.86L139.67,316.67L140.25,311.61L140.83,306.67L141.67,302.50L142.50,304.17L143.08,301.73L143.67,298.33L144.17,297.29L144.67,295.00L145.25,294.55L145.83,294.17L146.42,296.06L147.00,297.50L147.50,297.72L148.00,299.17L148.58,296.53L149.17,293.33L150.00,290.83L150.00,288.50L150.56,288.98L151.11,289.74L151.67,289.33L152.22,287.84L152.78,285.14L153.33,283.50L153.89,282.40L154.44,281.85L155.00,280.67L155.56,280.94L156.11,282.50L156.67,283.50L157.33,283.45L158.00,284.33L158.58,286.29L159.17,289.33L159.67,294.17L160.25,294.80L160.83,296.67L161.42,294.96L162.00,292.50L162.50,294.90L163.00,298.33L163.58,301.73L164.17,305.83L165.00,331.67L165.00,350.00L165.50,348.18L166.00,346.67L166.33,340.00L167.00,343.33L167.50,330.00L168.33,334.17L169.17,324.17L170.00,320.00L170.58,326.35L171.17,331.67L171.67,321.67L172.22,319.69L172.78,318.82L173.33,317.50L174.00,315.07L174.67,312.50L175.25,315.12L175.83,316.67L176.42,319.20L177.00,320.83L177.50,318.01L178.00,314.17L178.67,317.50L179.33,313.85L180.00,310.83L180.56,309.04L181.11,307.30L181.67,305.83L182.50,296.67L183.06,296.09L183.61,295.08L184.17,293.33L185.00,290.83L185.33,284.33L185.83,287.59L186.33,291.83L187.17,295.17L187.75,290.13L188.33,286.00L188.92,287.71L189.50,290.17L190.00,291.88L190.50,294.33L191.08,292.23L191.67,290.17L192.33,288.62L193.00,286.83L193.58,284.42L194.17,282.67L195.00,286.83L195.67,285.31L196.33,285.17L196.92,286.72L197.50,288.50L198.08,288.73L198.67,289.33L199.33,288.59L200.00,287.67L200.56,289.14L201.11,289.60L201.67,290.17L202.22,290.75L202.78,291.44L203.33,291.83L203.89,291.52L204.44,290.10L205.00,290.17L205.56,290.45L206.11,290.00L206.67,289.33L207.22,290.13L207.78,290.31L208.33,290.17L208.89,290.30L209.44,290.58L210.00,291.00L210.56,289.89L211.11,290.07L211.67,289.33L212.25,286.64L212.83,285.17L213.33,279.98L213.83,276.00L214.42,272.68L215.00,270.17L215.67,268.86L216.33,268.50L216.92,269.53L217.50,271.00L218.08,268.71L218.67,267.67L219.33,267.39L220.00,268.50L220.56,266.90L221.11,265.72L221.67,265.17L222.33,266.64L223.00,268.50L223.58,267.42L224.17,267.67L224.75,269.86L225.33,271.00L226.00,269.07L226.67,266.83L227.50,274.33L228.33,280.17L229.00,280.51L229.67,281.83L230.22,280.65L230.78,279.95L231.33,279.33L231.92,277.06L232.50,275.17L233.08,275.06L233.67,276.00L234.17,278.99L234.67,281.00L235.25,279.19L235.83,276.00L236.39,276.23L236.94,276.53L237.50,276.83L238.06,276.53L238.61,276.83L239.17,277.67L239.83,275.78L240.50,274.33L241.08,271.92L241.67,270.17L242.33,271.05L243.00,271.00L243.58,268.44L244.17,266.83L245.00,260.17L245.67,257.42L246.33,256.00L246.92,256.22L247.50,255.17L248.06,254.10L248.61,252.45L249.17,251.83L249.75,248.98L250.33,246.00L250.83,243.67L251.33,242.67L251.92,241.46L252.50,240.17L253.08,238.34L253.67,235.17L254.33,231.00L255.17,226.83L255.75,226.09L256.33,224.33L256.83,225.44L257.33,226.00L258.00,233.50L258.83,222.67L259.67,220.67L260.34,221.75L261.00,223.50L261.59,224.56L262.17,226.00L263.00,227.67L263.50,224.70L264.00,222.67L264.67,214.33L265.17,210.55L265.67,206.00L266.33,203.50L266.83,204.38L267.33,205.17L268.00,199.33L268.67,196.00L268.33,193.33L269.00,189.56L269.67,185.00L270.25,179.76L270.83,175.00L271.67,172.50L272.50,160.00L273.33,153.33L274.17,156.67L274.67,169.17L275.33,158.33L275.83,160.86L276.33,164.17L277.17,165.83L278.00,178.33L278.83,175.00L279.67,180.00L280.50,170.83L281.33,170.00L281.91,166.27L282.50,161.67L283.33,155.83L283.67,148.00L284.17,145.18L284.67,141.00L285.25,140.24L285.83,138.50L286.41,136.01L287.00,132.67L287.50,129.78L288.00,126.00L288.83,121.00L289.67,131.00L290.33,137.67L290.83,140.92L291.33,143.50L292.00,136.00L292.50,134.78L293.00,134.33L293.83,129.33L294.67,124.33L295.33,119.33L296.00,115.17L296.67,121.83L297.50,119.33L298.33,120.17L299.17,124.33L300.00,127.67L300.50,131.00L301.33,124.33L302.17,120.17L303.00,118.50L303.83,121.00L304.67,119.33L305.50,123.50L306.33,116.83L307.17,112.67L308.00,111.83L308.83,117.67L309.67,123.50L310.50,127.67L311.33,136.00L312.17,129.33L313.00,124.33L313.67,121.00L314.50,127.67L315.33,121.00L315.83,120.19L316.33,119.33L317.17,122.67L318.00,134.33L318.83,141.00L319.67,148.00L319.67,148.33L320.50,156.67L321.33,161.67L322.00,166.67L322.67,159.17L323.33,167.50L324.17,161.67L325.00,157.50L325.83,163.33L326.67,170.83L327.50,165.00L328.33,162.50L329.17,157.50L330.00,154.17L330.83,163.33L331.67,171.67L332.50,176.67L333.33,170.00L334.00,167.71L334.67,165.83L335.25,166.42L335.83,168.33L336.41,168.92L337.00,170.83L337.66,170.94L338.33,171.67L339.00,170.91L339.67,170.83L340.25,173.18L340.83,175.00L341.41,177.30L342.00,178.33L342.67,181.67L343.33,171.67L344.17,165.00L345.00,157.50L345.83,151.67L346.67,155.83L347.50,151.67L348.00,148.00L348.67,144.33L349.17,143.01L349.67,141.83L350.50,138.50L351.33,142.67L352.17,139.33L353.00,136.00L353.83,135.17L354.67,139.33L355.50,136.00L356.33,137.67L357.17,140.17L358.00,135.17L358.83,132.67L359.50,129.33L360.33,136.00L361.17,142.67L362.00,140.17L362.83,138.50L363.67,137.67L364.50,141.00L365.33,146.00L366.17,148.00L366.67,147.61L367.17,146.00L368.00,139.33L368.83,134.33L369.67,127.67L370.50,125.17L371.33,126.00L372.17,121.83L373.00,119.33L373.83,114.33L374.67,111.00L375.33,108.50L376.17,115.17L377.00,114.33L377.83,118.50L378.67,115.17L379.50,116.00L380.33,113.50L381.17,114.33L382.00,106.83L382.83,106.00L383.67,111.00L384.50,110.17L385.33,117.67L386.00,118.33L386.66,120.26L387.33,120.83L387.91,121.05L388.50,120.00L389.33,126.67L390.17,122.50L391.00,128.33L391.83,135.83L392.67,134.17L393.50,138.33L394.33,136.67L395.17,140.83L395.75,140.64L396.33,140.83L396.83,139.19L397.33,138.33L398.17,133.33L398.75,132.53L399.33,132.50L400.17,137.50L401.00,140.83L401.83,140.00L402.67,143.33L403.50,148.33L404.33,150.83L405.17,149.17L406.00,147.50L406.66,148.33L407.33,150.00L408.17,155.83L409.00,167.50L409.83,163.33L410.67,160.83L411.25,159.59L411.83,159.17L412.67,161.67L413.50,155.00L414.33,149.17L415.17,145.83L416.00,147.50L416.83,145.83L417.67,145.00L418.50,153.33L419.33,158.33L420.17,161.67L421.00,159.17L421.83,155.00L422.67,145.83L423.50,151.67L424.33,159.17L425.17,151.67L426.00,157.50L426.83,159.17L427.67,154.17L428.50,151.67L429.09,151.01L429.67,150.00L430.17,148.48L430.67,145.83L431.25,144.23L431.83,141.67L432.67,139.67L433.50,142.50L434.09,142.06L434.67,141.67L435.50,146.67L436.33,149.17L437.17,152.50L438.00,155.83L438.83,153.33L439.67,151.67L440.50,154.17L441.33,153.33L442.17,156.67L443.00,155.00L443.83,160.00L444.67,157.50L445.50,155.83L446.00,161.67L446.83,166.67L447.33,173.33L447.50,179.50L448.33,184.50L449.17,178.67L450.00,183.67L450.83,181.17L451.67,185.33L452.50,182.00L453.33,185.33L454.17,182.83L455.00,177.00L455.83,181.17L456.67,177.83L457.50,178.67L458.33,182.83L459.17,190.33L460.00,205.33L460.83,212.00L461.67,223.67L462.50,216.17L463.33,212.83L464.17,213.67L465.00,217.83L465.83,216.17L466.67,222.00L467.50,218.67L468.33,212.83L469.17,212.00L470.00,217.00L470.83,222.00L471.67,214.50L472.50,207.83L473.33,204.50L474.17,207.83L475.00,212.83L475.83,206.17L476.67,202.83L477.50,204.50L478.33,207.00L479.17,204.50L480.00,203.67L480.83,202.00L481.67,201.17L482.50,202.00L483.33,204.50L484.17,212.00L485.00,215.33L485.83,212.00L486.67,217.83L487.50,219.50L488.33,218.67L489.17,220.33L490.00,221.17L490.83,223.67L491.67,215.33L492.50,209.50L493.00,212.83L493.67,218.67L494.50,221.17L495.33,222.83L496.17,226.17L497.00,224.50L497.83,222.83L498.67,222.00L499.50,223.67L500.33,217.83L501.17,220.33L502.00,222.83L502.66,222.63L503.33,222.00L504.00,222.83L504.67,222.83L505.25,221.83L505.83,222.00L506.67,222.83L507.50,219.50L508.33,216.17L509.17,215.67L510.00,217.00L510.83,216.17L511.67,213.67L512.50,217.83L513.00,227.00L513.67,235.33L514.50,234.50L515.33,237.00L516.17,235.33L517.00,236.17L517.83,237.00L518.67,236.17L519.50,237.83L520.33,234.50L521.17,233.67L522.00,234.00L522.83,234.50L523.67,234.00L524.50,233.67L525.33,229.50L526.17,234.50L527.00,236.17L527.83,235.33L528.67,236.17L529.50,235.00L530.16,235.56L530.83,235.67L531.39,236.41L531.94,236.40L532.50,236.17L533.09,236.10L533.67,235.33L534.17,234.47L534.67,233.67L535.50,231.17L536.17,225.33L536.67,218.67L537.17,214.50L538.00,215.33L538.67,212.00L539.50,207.83L540.33,206.17L541.17,205.33L542.00,204.50L542.83,202.83L543.67,203.67L544.50,205.33L545.33,207.00L546.17,208.67L547.00,212.00L547.83,207.83L548.67,202.83L549.50,200.33L550.33,199.50L551.17,202.00L552.00,204.50L552.83,202.83L553.67,205.33L554.50,207.83L555.33,209.50L556.17,212.00L556.83,218.67L556.83,212.00L557.67,205.00L558.50,198.33L559.33,190.00L560.17,187.50L561.00,190.00L561.83,187.50L562.67,190.00L563.50,187.50L564.33,188.67L565.17,187.50L566.00,188.33L566.83,187.50L567.67,181.67L568.50,180.33L569.09,179.71L569.67,180.00L570.17,180.82L570.67,180.83L571.33,186.67L572.17,190.00L573.00,188.33L573.83,184.17L574.67,185.83L575.50,184.17L576.33,183.33L577.17,185.00L578.00,188.33L578.50,189.35L579.00,190.83L579.59,191.67L580.17,191.67L580.75,191.91L581.33,190.83L581.83,191.27L582.33,192.00L582.83,192.53L583.33,193.33L583.83,192.71L584.33,190.83L585.17,188.33L586.00,190.83L586.83,191.67L587.67,195.83L588.50,193.33L589.33,195.00L590.17,195.83L591.00,198.00L591.83,194.17L592.67,188.33L593.50,181.67L594.33,179.67L595.00,179.73L595.67,179.17L596.25,178.96L596.83,179.67L597.41,178.65L598.00,178.67L598.50,179.26L599.00,180.83L599.50,180.98L600.00,180.00L600.50,179.18L601.00,177.50L601.83,178.00L602.67,180.83L603.34,180.75L604.00,181.67L604.59,182.96L605.17,183.33L605.75,184.17L606.33,183.67L607.00,184.14L607.67,184.17L608.34,183.54L609.00,183.33L609.59,183.82L610.17,184.17L611.00,182.50L611.50,182.23L612.00,183.00L612.50,182.65L613.00,183.67L613.67,186.67L614.33,194.17L615.00,195.08L615.67,194.67L616.34,194.63L617.00,194.17L617.50,194.62L618.00,195.00L618.67,189.17L619.33,194.67L620.00,195.61L620.67,195.33L621.25,195.07L621.83,195.00L622.41,197.02L623.00,198.00L623.67,194.17L624.17,194.21L624.67,193.33L625.17,191.93L625.67,191.33L626.17,191.57L626.67,192.50L627.17,192.80L627.67,193.67L628.17,192.97L628.67,193.00L629.17,191.21L629.67,189.17L630.17,188.41L630.67,188.33L631.17,188.89L631.67,189.67L632.17,188.48L632.67,188.33L633.50,192.00L634.33,192.50L635.17,188.33L636.00,186.67L636.83,184.17L637.67,180.83L638.17,173.33L638.83,169.67L639.33,169.99L639.83,169.17L640.41,168.38L641.00,168.00L641.50,167.28L642.00,166.67L642.50,166.95L643.00,167.00L643.50,166.15L644.00,164.17L644.83,161.67L645.50,165.00L646.17,160.83L647.00,162.50L647.83,164.17L648.67,161.33L649.17,160.97L649.67,160.83L650.17,161.41L650.67,160.83L651.17,160.25L651.67,159.67L652.33,155.83L652.83,153.17L653.33,148.17L654.17,145.67L655.00,146.50L655.83,152.33L656.67,149.83L657.50,150.67L658.33,148.17L658.83,147.38L659.33,146.50L659.83,146.95L660.33,147.33L660.83,147.91L661.33,149.83L661.83,148.50L662.33,147.33L662.83,146.06L663.33,145.67L663.83,145.81L664.33,147.33L665.00,141.50L665.83,140.33L666.67,144.00L667.50,149.83L668.33,148.17L669.17,150.67L670.00,152.33L670.50,154.42L671.00,155.67L671.50,153.13L672.00,151.50L672.50,149.80L673.00,148.17L673.59,148.24L674.17,147.67L674.75,148.00L675.33,148.17L676.17,144.00L677.00,139.00L677.83,134.83L678.67,131.50L679.17,130.67L679.67,130.33L680.25,130.69L680.83,131.00L681.41,132.16L682.00,133.17L682.83,130.67L683.50,122.33L684.17,114.83L685.00,113.17L685.67,109.00L686.33,104.83L687.00,111.50L687.67,104.00L688.33,100.67L689.00,99.00L689.67,103.17L690.33,109.00L691.00,114.83L691.67,107.33L692.33,112.33L693.00,105.67L693.83,102.33L694.67,103.17L695.50,100.67L696.17,103.17L696.83,109.00L697.50,103.17L698.33,100.67L699.00,104.00L699.67,102.33L700.33,108.17L701.17,110.67L702.00,115.67L702.83,110.67L703.67,107.33L704.50,109.83L705.33,112.33L706.17,113.17L706.83,119.83L707.50,113.17L708.33,112.33L709.17,114.83L710.00,115.67L710.83,113.17L711.67,114.83" fill="none" stroke="#2a2a2a" stroke-width="1.5" stroke-linejoin="round" stroke-linecap="round"/></svg>
<div class="t title">Bitcoin: Long-Term Holder Net Position Change</div>
<div class="dot" style="left:34.2px;background:#0eb06d"></div><div class="t lg" style="left:41.5px">Long-Term Holder Position Change</div>
<div class="dot" style="left:167.4px;background:#ee1818"></div><div class="t lg" style="left:174.5px">Long-Term Holder Position Change</div>
<div class="dot" style="left:300.7px;background:#2a2a2a"></div><div class="t lg" style="left:308.2px">Price [USD]</div>
<div class="t yl" style="top:106px">1.2M</div>
<div class="t yl" style="top:191px">400K</div>
<div class="t yl" style="top:276.2px">-400K</div>
<div class="t yl" style="top:361.2px">-1.2M</div>
<div class="t yr" style="top:110.4px">$60k</div>
<div class="t yr" style="top:212.2px">$20k</div>
<div class="t yr" style="top:297px">$8k</div>
<div class="t yr" style="top:361.3px">$4k</div>
<div class="t xl" style="left:73.3px">Jul '19</div>
<div class="t xl" style="left:139.5px">Jan '20</div>
<div class="t xl" style="left:204.5px">Jul '20</div>
<div class="t xl" style="left:270.5px">Jan '21</div>
<div class="t xl" style="left:335.5px">Jul '21</div>
<div class="t xl" style="left:401.5px">Jan '22</div>
<div class="t xl" style="left:466.5px">Jul '22</div>
<div class="t xl" style="left:532.7px">Jan '23</div>
<div class="t xl" style="left:596.7px">Jul '23</div>
<div class="t xl" style="left:662.7px">Jan '24</div>
<div class="t copy">© 2024 Glassnode. All Rights Reserved.</div>
<div class="t logo">glassnode</div>
</body></html>
